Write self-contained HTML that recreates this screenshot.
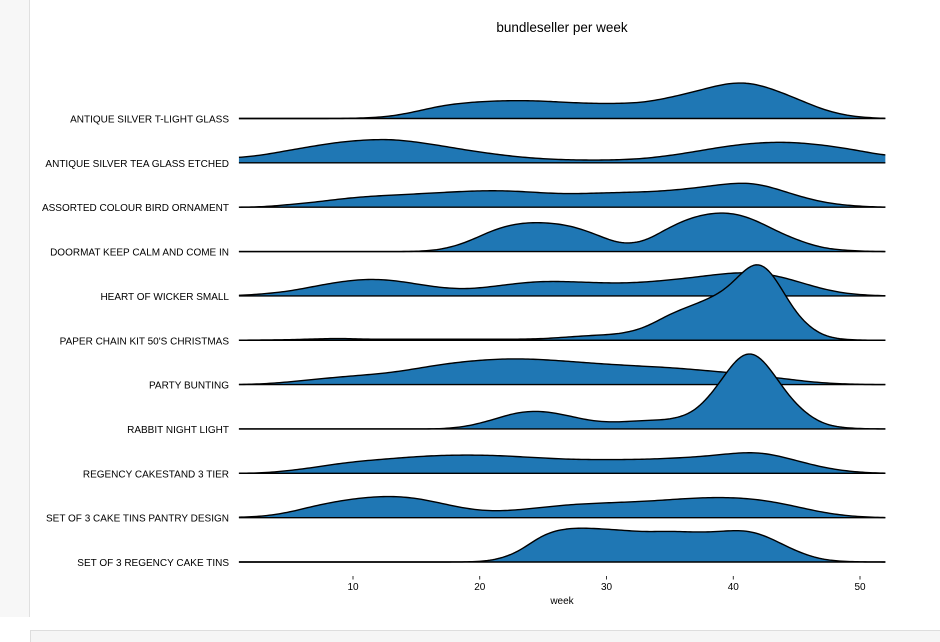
<!DOCTYPE html>
<html><head><meta charset="utf-8"><style>
html,body{margin:0;padding:0;width:940px;height:641px;overflow:hidden;background:#fff;font-family:"Liberation Sans","DejaVu Sans",sans-serif;}
#side{position:absolute;left:0;top:0;width:29px;height:617px;background:#f7f7f7;border-right:1px solid #e0e0e0;}
#bottom{position:absolute;left:30px;top:630px;width:910px;height:11px;background:#f5f5f5;border-top:1px solid #ddd;border-left:1px solid #ddd;}
svg{position:absolute;left:0;top:0;}
</style></head><body>
<div id="side"></div>
<div id="bottom"></div>
<svg id="chart" width="940" height="641"></svg>
<script>
const categories = ["ANTIQUE SILVER T-LIGHT GLASS","ANTIQUE SILVER TEA GLASS ETCHED","ASSORTED COLOUR BIRD ORNAMENT","DOORMAT KEEP CALM AND COME IN","HEART OF WICKER SMALL","PAPER CHAIN KIT 50'S CHRISTMAS","PARTY BUNTING","RABBIT NIGHT LIGHT","REGENCY CAKESTAND 3 TIER","SET OF 3 CAKE TINS PANTRY DESIGN ","SET OF 3 REGENCY CAKE TINS"];
const weeks = [1,3,5,7,9,11,13,15,17,19,21,23,25,27,29,31,33,35,37,39,40,41,42,43,44,45,47,49,51,52];
const r1 = [0,0,0,0,0,0.5,2,7,13,16,17.5,18,17.5,16,15,15,16,21,27,34,36,36.5,34,30,25,20,9,2.5,0.5,0];
const r2 = [5,8,12.7,17,21,23,23.7,21,17,12.7,9,6,4,3,2.7,3,4.3,7.3,11.3,15.7,17.5,19,20,20.7,20.7,20.3,18,14.3,9.7,7];
const r3 = [0,0.3,2.7,5,8.3,10.7,12,13.3,14.7,16,16.7,16,14.3,13.3,14,14.7,15.3,16.7,19.3,22.7,24,24.7,23.5,20,16,11.7,5,1.7,0.3,0];
const r4 = [0,0,0,0,0,0,0,0,1.7,9,21.7,28.7,29.3,26.7,18.3,7,9,25,35.7,39.7,38.5,35.7,30,23.3,17,11.7,3.3,1,0,0];
const r5 = [0.3,2,4.7,9.7,14.3,17,16,12,8,6.7,9.3,12.7,14.7,14.3,13.3,12.7,13.7,16,18.7,22,23,23.7,23,21.3,18.5,14.7,7,2,0.5,0];
const r6 = [0,0.3,0.5,1.3,2,1,1,1,1,1,1,1,1.5,3.3,5,6,11.7,26.7,36,46.7,56,74,85,72,46.7,23.3,3.3,0.3,0,0];
const r7 = [0,0.7,2.7,5.3,7.7,9.7,12,16,20.3,23.3,25.3,26,25,23.3,21.3,19.7,18.3,17,15,12.7,11.7,10.3,8.3,7.7,6,4.3,1.7,0.5,0,0];
const r8 = [0,0,0,0,0,0,0,0,0,2.3,9,17.3,18.3,13.3,7.3,6.7,8.7,9,15.7,45.7,69,82,78,59,39,22.3,4,0.7,0,0];
const r9 = [0,0.3,2.7,6,10,12.7,14.7,16.7,18,18.3,18,16.7,15.3,14,13.7,13.7,14,15,16.3,18.7,20,21,21,19.3,16,12.7,6,2,0.3,0];
const r10 = [0.3,1.3,5.3,12,17,20.3,21.7,19.7,14.3,8.7,6.3,7.7,10.3,13,14.3,15.3,16.3,18,19.7,20.3,20,19.3,18,16.3,13.7,11,5.3,1.7,0.3,0];
const r11 = [0,0,0,0,0,0,0,0,0,0,1,8.7,28.7,34.3,33.7,32,30,31,29.7,30.3,32,32,29.3,23.7,17,10.3,2,0.3,0,0];
const series = [r1,r2,r3,r4,r5,r6,r7,r8,r9,r10,r11];
const xTicks = [10,20,30,40,50];

const NS = "http://www.w3.org/2000/svg";
const svg = document.getElementById("chart");
function xs(w){ return 226.25 + w*12.675; }
function base(i){ return 118.5 + i*44.35; }
function ys(v,i){ return base(i) - v; }
function mk(tag, attrs){ const e=document.createElementNS(NS,tag); for(const k in attrs) e.setAttribute(k,attrs[k]); svg.appendChild(e); return e; }
function lin(vals,w){
  if(w<=weeks[0]) return vals[0];
  for(let k=0;k<weeks.length-1;k++){
    if(w<=weeks[k+1]){ const t=(w-weeks[k])/(weeks[k+1]-weeks[k]); return vals[k]+(vals[k+1]-vals[k])*t; }
  }
  return vals[vals.length-1];
}
function smooth(vals){
  const step=0.2, sig=0.9, out=[];
  const w0=weeks[0], w1=weeks[weeks.length-1];
  for(let w=w0; w<=w1+1e-9; w+=step){
    let s=0, ws=0;
    for(let d=-3*sig; d<=3*sig+1e-9; d+=step){
      const g=Math.exp(-d*d/(2*sig*sig)); s+=g*lin(vals,w+d); ws+=g;
    }
    out.push([w,s/ws]);
  }
  return out;
}

const title = mk("text",{x:562,y:32,"text-anchor":"middle","font-size":13.5,fill:"#000"});


title.textContent = "bundleseller per week";

series.forEach((vals,i)=>{
  const pts = smooth(vals).map(p=>[xs(p[0]).toFixed(2), ys(p[1],i).toFixed(2)]);
  const d = "M"+pts.map(p=>p[0]+","+p[1]).join(" L");
  const b = base(i);
  const area = mk("path",{d: d+" L"+xs(weeks[weeks.length-1])+","+b+" L"+xs(weeks[0])+","+b+" Z",fill:"#1f77b4",stroke:"none"});
  
  
  const line = mk("path",{d:d,fill:"none",stroke:"#000","stroke-width":1.4,"stroke-linejoin":"round"});
  
  
  const bl = mk("line",{x1:xs(weeks[0]),x2:xs(weeks[weeks.length-1]),y1:b,y2:b,stroke:"#000","stroke-width":1.4});
  
  
  const lab = mk("text",{x:229,y:b+4,"text-anchor":"end","font-size":10,fill:"#000"});
  
  
  lab.textContent = categories[i];
});

xTicks.forEach(t=>{
  const tk = mk("line",{x1:xs(t),x2:xs(t),y1:576,y2:579.5,stroke:"#000","stroke-width":0.8});
  
  
  const tl = mk("text",{x:xs(t),y:590,"text-anchor":"middle","font-size":10,fill:"#000"});
  
  
  tl.textContent = t;
});
const xt = mk("text",{x:562,y:604,"text-anchor":"middle","font-size":10,fill:"#000"});


xt.textContent = "week";
</script>
</body></html>
